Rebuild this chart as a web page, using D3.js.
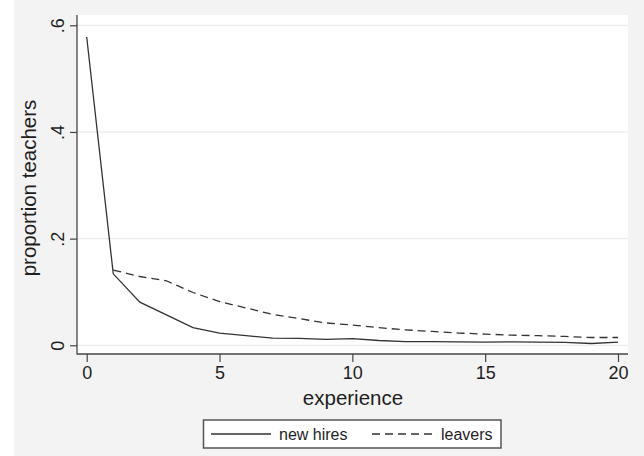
<!DOCTYPE html>
<html>
<head>
<meta charset="utf-8">
<script src="https://cdn.jsdelivr.net/npm/d3@7"></script>
<style>
  html, body { margin: 0; padding: 0; background: #ffffff; }
  svg { display: block; }
  text { font-family: "Liberation Sans", Arial, Helvetica, sans-serif; fill: #1e1e1e; }
</style>
</head>
<body>
<svg id="chart" width="644" height="456"></svg>
<script>
// Years of teaching experience
const experience = d3.range(0, 21);
// Share of new hires at each experience level
const newHires = [0.578, 0.134, 0.081, 0.057, 0.033, 0.023, 0.018, 0.0135, 0.013, 0.011,
                  0.0125, 0.009, 0.007, 0.007, 0.0065, 0.006, 0.0065, 0.006, 0.0055, 0.0034, 0.006];
// Share of leavers at each experience level (no value at 0)
const leavers = [null, 0.141, 0.129, 0.121, 0.099, 0.082, 0.070, 0.058, 0.050, 0.042,
                 0.038, 0.033, 0.029, 0.026, 0.023, 0.021, 0.019, 0.018, 0.0166, 0.0146, 0.0146];
const xTicks = [0, 5, 10, 15, 20];
const yTicks = [0, 0.2, 0.4, 0.6];
const yTickLabels = ["0", ".2", ".4", ".6"];
const seriesNames = ["new hires", "leavers"];

const svg = d3.select("#chart");

// page background
svg.append("rect").attr("x", 14).attr("y", 0).attr("width", 630).attr("height", 456).attr("fill", "#f3f3f3");

const region = { left: 77, right: 628, top: 15, bottom: 354 };
const x = d3.scaleLinear().domain([0, 20]).range([86.7, 618]);
const y = d3.scaleLinear().domain([0, 0.6]).range([345.3, 25.3]);

// plot region
svg.append("rect")
  .attr("x", region.left).attr("y", region.top)
  .attr("width", region.right - region.left).attr("height", region.bottom - region.top)
  .attr("fill", "#ffffff");

// gridlines
svg.append("g").selectAll("line").data(yTicks).join("line")
  .attr("x1", region.left).attr("x2", region.right)
  .attr("y1", d => y(d)).attr("y2", d => y(d))
  .attr("stroke", "#e8e8e8").attr("stroke-width", 1);

// y axis
const yAxis = svg.append("g").attr("transform", `translate(${region.left},0)`)
  .call(d3.axisLeft(y).tickValues(yTicks).tickSize(7).tickSizeOuter(0)
    .tickFormat((d, i) => yTickLabels[i]));
yAxis.select(".domain").remove();
yAxis.selectAll(".tick line").attr("stroke", "#444").attr("stroke-width", 1.2);
yAxis.selectAll(".tick text")
  .attr("x", null).attr("dy", null)
  .attr("transform", "translate(-13,0) rotate(-90)")
  .attr("text-anchor", "middle")
  .style("font-size", "18px").style("fill", "#1e1e1e");

// x axis
const xAxis = svg.append("g").attr("transform", `translate(0,${region.bottom})`)
  .call(d3.axisBottom(x).tickValues(xTicks).tickSize(8).tickSizeOuter(0));
xAxis.select(".domain").remove();
xAxis.selectAll(".tick line").attr("stroke", "#444").attr("stroke-width", 1.2);
xAxis.selectAll(".tick text").attr("y", 12).style("font-size", "18px").style("fill", "#1e1e1e");

// axis lines
svg.append("line").attr("x1", region.left).attr("x2", region.left)
  .attr("y1", region.top).attr("y2", region.bottom + 0.6)
  .attr("stroke", "#444").attr("stroke-width", 1.3);
svg.append("line").attr("x1", region.left).attr("x2", region.right)
  .attr("y1", region.bottom).attr("y2", region.bottom)
  .attr("stroke", "#444").attr("stroke-width", 1.3);

// axis titles
svg.append("text").attr("x", 353).attr("y", 405).attr("text-anchor", "middle")
  .style("font-size", "20.5px").text("experience");
svg.append("text").attr("transform", "translate(36,188) rotate(-90)").attr("text-anchor", "middle")
  .style("font-size", "20.5px").text("proportion teachers");

// lines
const line = d3.line().defined(d => d[1] != null).x(d => x(d[0])).y(d => y(d[1]));
svg.append("path").datum(experience.map((e, i) => [e, newHires[i]]))
  .attr("d", line).attr("fill", "none").attr("stroke", "#333").attr("stroke-width", 1.3);
svg.append("path").datum(experience.map((e, i) => [e, leavers[i]]))
  .attr("d", line).attr("fill", "none").attr("stroke", "#333").attr("stroke-width", 1.3)
  .attr("stroke-dasharray", "8,5");

// legend
const lg = svg.append("g");
lg.append("rect").attr("x", 203.5).attr("y", 420).attr("width", 297.5).attr("height", 28)
  .attr("fill", "#ffffff").attr("stroke", "#555").attr("stroke-width", 1.5);
lg.append("line").attr("x1", 211).attr("x2", 271).attr("y1", 434).attr("y2", 434)
  .attr("stroke", "#333").attr("stroke-width", 1.3);
lg.append("text").attr("x", 279).attr("y", 440).style("font-size", "16px").text(seriesNames[0]);
lg.append("line").attr("x1", 372).attr("x2", 432).attr("y1", 434).attr("y2", 434)
  .attr("stroke", "#333").attr("stroke-width", 1.3).attr("stroke-dasharray", "8,5");
lg.append("text").attr("x", 441).attr("y", 440).style("font-size", "16px").text(seriesNames[1]);
</script>
</body>
</html>
